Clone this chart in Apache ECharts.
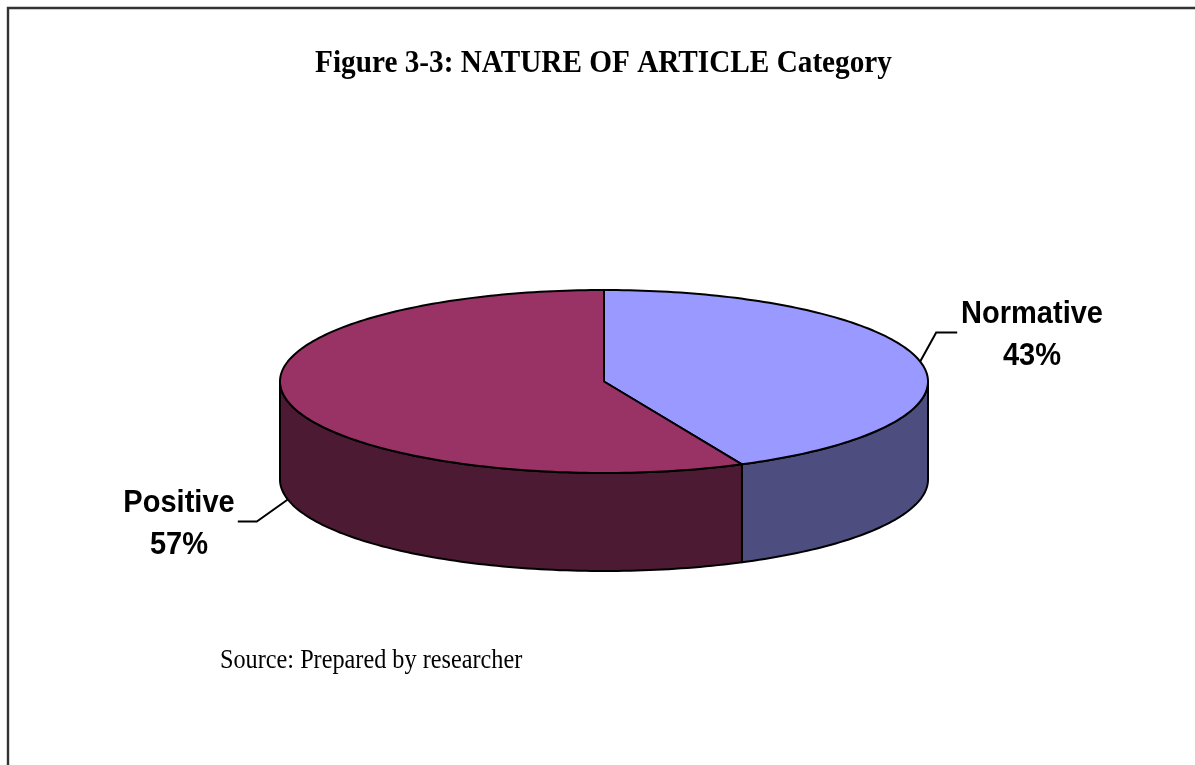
<!DOCTYPE html>
<html>
<head>
<meta charset="utf-8">
<style>html,body{margin:0;padding:0;background:#fff}#c{width:1195px;height:765px}</style>
<script src="https://cdn.jsdelivr.net/npm/echarts@6/dist/echarts.min.js"></script>
</head>
<body>
<div id="c"></div>
<script>
const categories = ['Normative', 'Positive'];
const values = [43, 57];
const titleText = 'Figure 3-3: NATURE OF ARTICLE Category';
const sourceText = 'Source: Prepared by researcher';

const topColors = ['#9999FF', '#993366'];
const sideColors = ['#4D4D80', '#4D1A33'];
const CX = 604, CY = 381.5, RX = 324, RY = 91.5, DEPTH = 98;
const total = values.reduce((a, b) => a + b, 0);
const startOf = i => values.slice(0, i).reduce((a, b) => a + b, 0) / total * 2 * Math.PI;
const rim = (t, dy) => [CX + RX * Math.sin(t), CY - RY * Math.cos(t) + (dy || 0)];
const arc = (a, b, dy) => {
  const n = Math.max(2, Math.ceil((b - a) / 0.02)), pts = [];
  for (let k = 0; k <= n; k++) pts.push(rim(a + (b - a) * k / n, dy));
  return pts;
};
// leader elbow offsets and label centres, per slice
const labelStyle = [
  { elbow: [16, -29], end: [37, -29], at: [1032, 335], scale: 0.937, onSide: false },
  { elbow: [-31, 22], end: [-50, 22], at: [179, 524], scale: 0.937, onSide: true }
];

function renderItem(params, api) {
  const i = params.dataIndex;
  const a = startOf(i), b = a + api.value(0) / total * 2 * Math.PI;
  const children = [];
  const sa = Math.max(a, Math.PI / 2), sb = Math.min(b, 3 * Math.PI / 2);
  const stroke = { stroke: '#000', lineWidth: 2, lineJoin: 'round' };
  if (sb > sa) {
    children.push({
      type: 'polygon',
      shape: { points: arc(sa, sb, 0).concat(arc(sa, sb, DEPTH).reverse()) },
      style: Object.assign({ fill: sideColors[i] }, stroke)
    });
  }
  children.push({
    type: 'polygon',
    shape: { points: [[CX, CY]].concat(arc(a, b, 0)) },
    style: Object.assign({ fill: topColors[i] }, stroke)
  });
  const ls = labelStyle[i], mid = (a + b) / 2;
  const p = rim(mid, ls.onSide ? DEPTH : 0);
  children.push({
    type: 'polyline',
    shape: { points: [p, [p[0] + ls.elbow[0], p[1] + ls.elbow[1]], [p[0] + ls.end[0], p[1] + ls.end[1]]] },
    style: { stroke: '#000', lineWidth: 2, fill: null }
  });
  children.push({
    type: 'text',
    x: ls.at[0], y: ls.at[1], scaleX: ls.scale, originX: 0, originY: 0,
    style: {
      text: categories[i] + '\n' + api.value(0) + '%',
      fontFamily: '"Liberation Sans", Arial, sans-serif',
      fontWeight: 'bold', fontSize: 31, lineHeight: 42,
      fill: '#000', align: 'center', verticalAlign: 'middle'
    }
  });
  return { type: 'group', children };
}

const chart = echarts.init(document.getElementById('c'), null, { width: 1195, height: 765 });
chart.setOption({
  animation: false,
  backgroundColor: '#fff',
  graphic: [
    { type: 'polyline', silent: true, shape: { points: [[8, 765], [8, 8], [1195, 8]] }, style: { stroke: '#333', lineWidth: 2.4, fill: null } },
    { type: 'text', silent: true, x: 603.5, y: 64, scaleX: 0.943, style: { text: titleText, fontFamily: '"Liberation Serif", "Times New Roman", serif', fontWeight: 'bold', fontSize: 31, fill: '#000', align: 'center', verticalAlign: 'middle' } },
    { type: 'text', silent: true, x: 220, y: 661.5, scaleX: 0.915, style: { text: sourceText, fontFamily: '"Liberation Serif", "Times New Roman", serif', fontSize: 26.5, fill: '#000', align: 'left', verticalAlign: 'middle' } }
  ],
  series: [{
    type: 'custom', coordinateSystem: 'none', renderItem,
    data: values.map((v, i) => ({ name: categories[i], value: [v] }))
  }]
});
</script>
</body>
</html>
